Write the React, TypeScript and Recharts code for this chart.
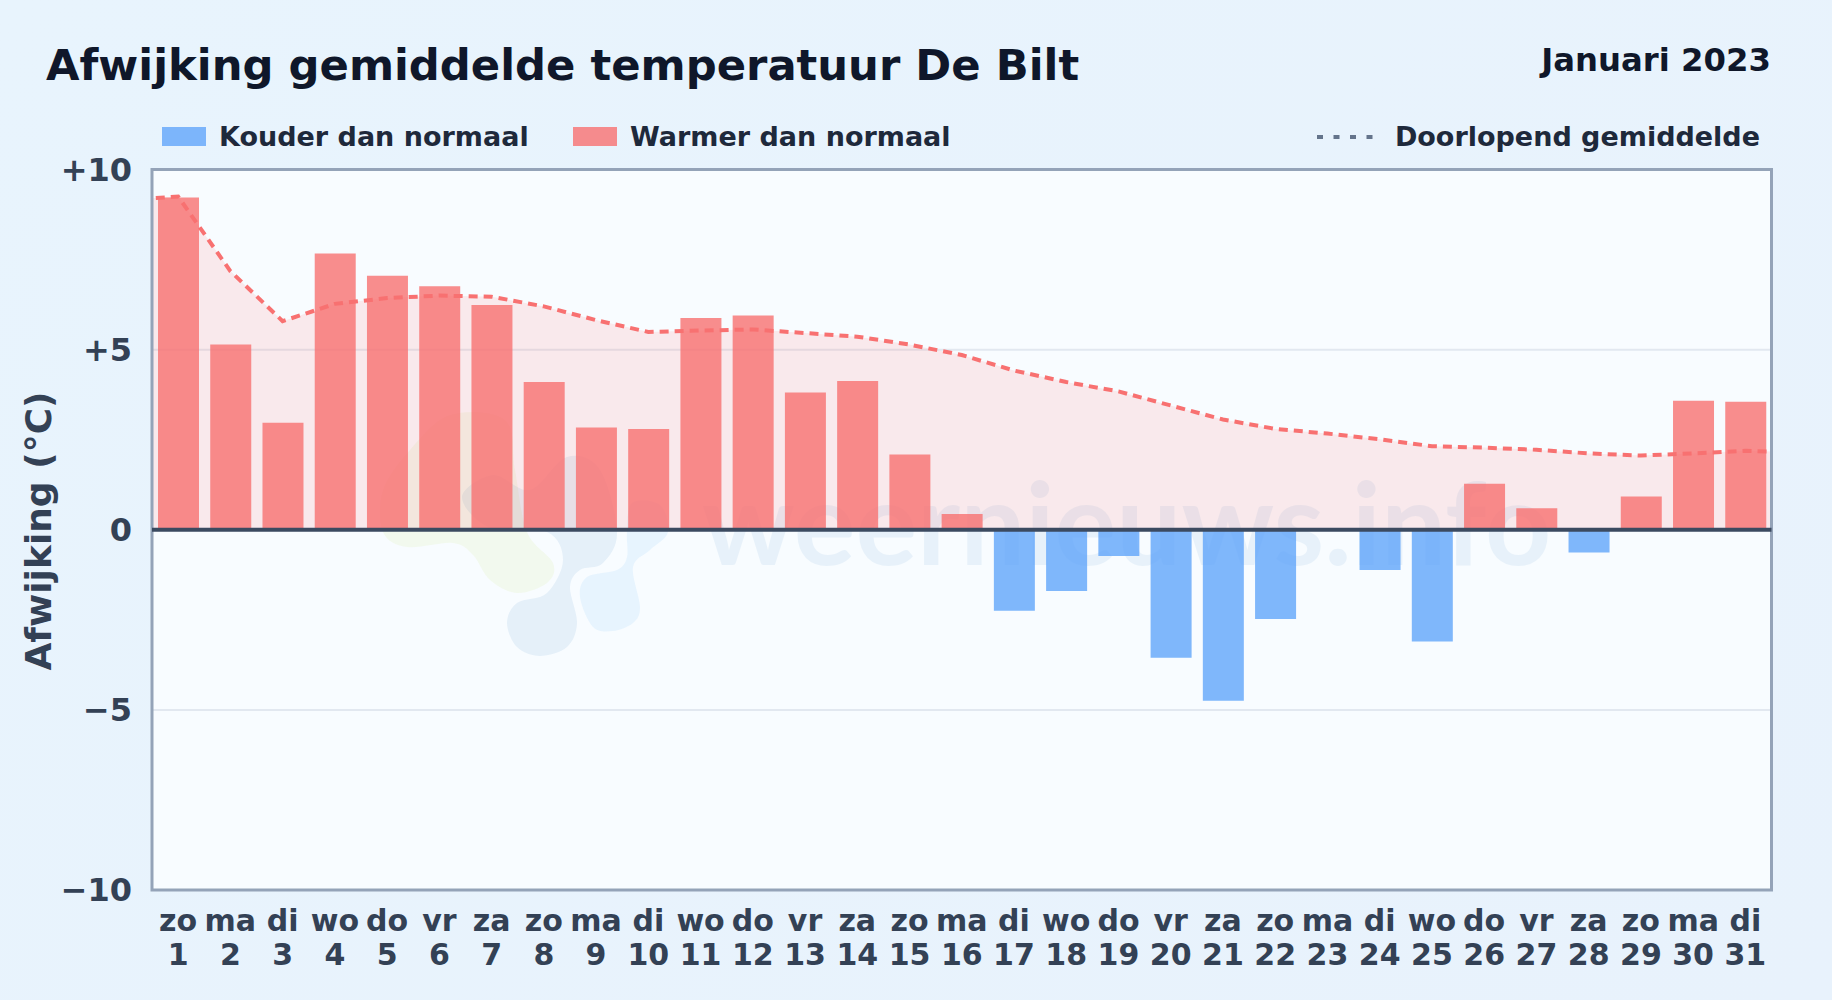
import { Bar, CartesianGrid, Cell, ComposedChart, Area, Line, ReferenceArea, ReferenceLine, XAxis, YAxis } from 'recharts'

const FONT = '"DejaVu Sans", sans-serif'

const weekdays = ['zo', 'ma', 'di', 'wo', 'do', 'vr', 'za', 'zo', 'ma', 'di', 'wo', 'do', 'vr', 'za', 'zo', 'ma', 'di', 'wo', 'do', 'vr', 'za', 'zo', 'ma', 'di', 'wo', 'do', 'vr', 'za', 'zo', 'ma', 'di']
const days = [1, 2, 3, 4, 5, 6, 7, 8, 9, 10, 11, 12, 13, 14, 15, 16, 17, 18, 19, 20, 21, 22, 23, 24, 25, 26, 27, 28, 29, 30, 31]
const deviation = [9.22, 5.14, 2.97, 7.67, 7.05, 6.76, 6.24, 4.1, 2.84, 2.8, 5.88, 5.95, 3.81, 4.13, 2.09, 0.44, -2.25, -1.7, -0.73, -3.55, -4.75, -2.48, 0, -1.12, -3.1, 1.28, 0.6, -0.63, 0.92, 3.58, 3.55]
const runningMean = [9.25, 7.18, 5.79, 6.27, 6.43, 6.5, 6.47, 6.2, 5.82, 5.49, 5.53, 5.56, 5.46, 5.36, 5.14, 4.85, 4.42, 4.1, 3.84, 3.45, 3.06, 2.8, 2.67, 2.51, 2.32, 2.28, 2.22, 2.12, 2.06, 2.12, 2.19]
const yTicks = [-10, -5, 0, 5, 10]
const yLabels: Record<number, string> = { [-10]: '−10', [-5]: '−5', 0: '0', 5: '+5', 10: '+10' }

const RED = '#f87171'
const BLUE = '#60a5fa'

// line and fill run past the plot on both sides and get clipped at its edges
const rows = [
  { day: 0, mean: 9.15 },
  ...days.map((day, i) => ({ day, value: deviation[i], mean: runningMean[i] })),
  { day: 32, mean: 2.15 },
]

// outlines of the logo blobs behind the chart
const greenBlob = [[383, 490], [410, 450], [450, 415], [505, 420], [515, 470], [527, 532], [553, 563], [547, 583], [517, 593], [490, 580], [473, 555], [453, 543], [407, 547], [383, 532]]
const darkBlob = [[462, 497], [493, 475], [530, 490], [567, 457], [600, 470], [617, 532], [603, 563], [580, 570], [570, 587], [577, 623], [567, 647], [540, 656], [517, 647], [507, 623], [517, 603], [547, 593], [563, 560], [547, 532], [490, 528]]
const lightBlob = [[627, 532], [632, 503], [660, 505], [668, 532], [650, 550], [633, 567], [640, 607], [633, 623], [613, 631], [593, 627], [580, 597], [587, 577], [617, 570], [627, 557]]

function blobPath(points: number[][]) {
  const n = points.length
  let d = `M${points[0][0]} ${points[0][1]}`
  for (let i = 0; i < n; i++) {
    const [p0, p1, p2, p3] = [points[(i + n - 1) % n], points[i], points[(i + 1) % n], points[(i + 2) % n]]
    d += ` C${p1[0] + (p2[0] - p0[0]) / 6} ${p1[1] + (p2[1] - p0[1]) / 6} ${p2[0] - (p3[0] - p1[0]) / 6} ${p2[1] - (p3[1] - p1[1]) / 6} ${p2[0]} ${p2[1]}`
  }
  return d + 'Z'
}

function DayTick({ x, y, payload }: any) {
  const i = days.indexOf(payload.value)
  return (
    <text x={x} textAnchor="middle" fontFamily={FONT} fontWeight={700} fontSize={30} fill="#334155">
      <tspan x={x} y={y + 33}>{weekdays[i]}</tspan>
      <tspan x={x} y={y + 66.5}>{days[i]}</tspan>
    </text>
  )
}

function DeviationTick({ x, y, payload }: any) {
  return (
    <text x={x - 2} y={y + 11} textAnchor="end" fontFamily={FONT} fontWeight={700} fontSize={32} fill="#334155">
      {yLabels[payload.value]}
    </text>
  )
}

function Watermark() {
  return (
    <svg width={1832} height={1000} style={{ position: 'absolute', left: 0, top: 0, pointerEvents: 'none' }}>
      <path d={blobPath(greenBlob)} fill="#c7e05a" opacity={0.1} />
      <path d={blobPath(darkBlob)} fill="#1d6fb8" opacity={0.085} />
      <path d={blobPath(lightBlob)} fill="#5db4f2" opacity={0.1} />
      <text x={702} y={565} fontFamily="Lato, sans-serif" fontWeight={700} fontSize={115.5} fill="#2f7fc8" opacity={0.08}>
        weernieuws.info
      </text>
    </svg>
  )
}

function LegendRow() {
  const label = { position: 'absolute', top: 121, fontFamily: FONT, fontWeight: 700, fontSize: 27, lineHeight: '32px', color: '#1e293b', whiteSpace: 'nowrap' } as const
  const swatch = { position: 'absolute', top: 127, width: 44, height: 19 } as const
  return (
    <>
      <div style={{ ...swatch, left: 162, background: BLUE, opacity: 0.8 }} />
      <div style={{ ...label, left: 219 }}>Kouder dan normaal</div>
      <div style={{ ...swatch, left: 573, background: RED, opacity: 0.8 }} />
      <div style={{ ...label, left: 630 }}>Warmer dan normaal</div>
      <svg width={60} height={6} style={{ position: 'absolute', left: 1317, top: 134 }}>
        <line x1={0} x2={60} y1={3} y2={3} stroke="#64748b" strokeWidth={4} strokeDasharray="6 10.5" />
      </svg>
      <div style={{ ...label, right: 72 }}>Doorlopend gemiddelde</div>
    </>
  )
}

export default function App() {
  return (
    <div style={{ position: 'absolute', left: 0, top: 0, width: 1832, height: 1000, overflow: 'hidden', background: 'linear-gradient(135deg, #e8f4fd 0%, #e8f2fc 100%)' }}>
      <div style={{ position: 'absolute', left: 46, top: 36, fontFamily: FONT, fontWeight: 700, fontSize: 43.3, lineHeight: '58px', color: '#0f172a', whiteSpace: 'nowrap' }}>
        Afwijking gemiddelde temperatuur De Bilt
      </div>
      <div style={{ position: 'absolute', right: 61, top: 38, fontFamily: FONT, fontWeight: 700, fontSize: 32.3, lineHeight: '44px', color: '#0f172a', whiteSpace: 'nowrap' }}>
        Januari 2023
      </div>
      <LegendRow />
      <div style={{ position: 'absolute', left: 38, top: 531, fontFamily: FONT, fontWeight: 700, fontSize: 36, color: '#334155', whiteSpace: 'nowrap', transform: 'translate(-50%, -50%) rotate(-90deg)' }}>
        Afwijking (°C)
      </div>
      {/* plot background sits under the watermark, the chart svg on top stays transparent */}
      <div style={{ position: 'absolute', left: 152, top: 169.5, width: 1619.5, height: 720.5, background: '#f8fcff' }} />
      <Watermark />
      <div style={{ position: 'absolute', left: 0, top: 0 }}>
        <ComposedChart width={1832} height={1000} data={rows} margin={{ top: 169.5, right: 60.5, bottom: 0, left: 0 }}>
          <CartesianGrid vertical={false} horizontalValues={[-5, 5]} stroke="#e2e8f0" strokeWidth={2} />
          <XAxis
            dataKey="day"
            type="number"
            domain={[0.5, 31.5]}
            allowDataOverflow
            ticks={days}
            interval={0}
            height={110}
            axisLine={false}
            tickLine={false}
            tick={<DayTick />}
          />
          <YAxis
            domain={[-10, 10]}
            ticks={yTicks}
            width={152}
            axisLine={false}
            tickLine={false}
            tickMargin={12}
            tick={<DeviationTick />}
          />
          <Area dataKey="mean" type="linear" stroke="none" fill="#ff6b6b" fillOpacity={0.13} isAnimationActive={false} />
          <Bar dataKey="value" barSize={41} isAnimationActive={false}>
            {rows.map((row, index) => (
              <Cell key={`cell-${index}`} fill={(row.value ?? 0) < 0 ? BLUE : RED} fillOpacity={0.8} />
            ))}
          </Bar>
          <Line dataKey="mean" type="linear" stroke={RED} strokeWidth={4} strokeDasharray="9 6" dot={false} activeDot={false} isAnimationActive={false} />
          <ReferenceLine y={0} stroke="#3b4a60" strokeWidth={4} />
          <ReferenceArea x1={0.5} x2={31.5} y1={-10} y2={10} fill="none" stroke="#94a3b8" strokeWidth={3} />
        </ComposedChart>
      </div>
    </div>
  )
}
